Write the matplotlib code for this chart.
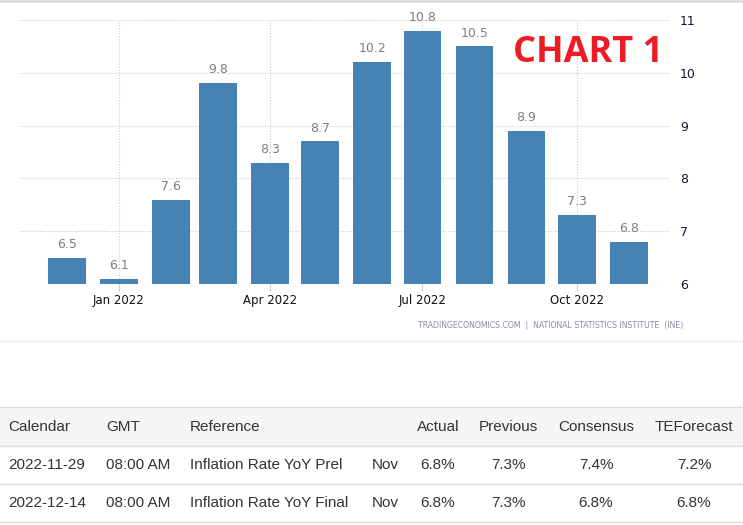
import matplotlib
matplotlib.use("Agg")
import numpy as np
import matplotlib.pyplot as plt
import matplotlib.dates as mdates
from datetime import date, timedelta

# monthly CPI YoY (%)
months = [date(2021, 12, 1), date(2022, 1, 1), date(2022, 2, 1), date(2022, 3, 1),
          date(2022, 4, 1), date(2022, 5, 1), date(2022, 6, 1), date(2022, 7, 1),
          date(2022, 8, 1), date(2022, 9, 1), date(2022, 10, 1), date(2022, 11, 1)]
values = [6.5, 6.1, 7.6, 9.8, 8.3, 8.7, 10.2, 10.8, 10.5, 8.9, 7.3, 6.8]
tick_dates = [date(2022, 1, 1), date(2022, 4, 1), date(2022, 7, 1), date(2022, 10, 1)]
yticks = [6, 7, 8, 9, 10, 11]

# calendar table
headers = ["Calendar", "GMT", "Reference", "", "Actual", "Previous", "Consensus", "TEForecast"]
rows = [
    ["2022-11-29", "08:00 AM", "Inflation Rate YoY Prel", "Nov", "6.8%", "7.3%", "7.4%", "7.2%"],
    ["2022-12-14", "08:00 AM", "Inflation Rate YoY Final", "Nov", "6.8%", "7.3%", "6.8%", "6.8%"],
]

W, H = 743, 525
fig = plt.figure(figsize=(W / 100, H / 100), dpi=100)

def fx(px):
    return px / W

def fy(py):
    return 1 - py / H

ax = fig.add_axes([fx(20), fy(284), fx(669 - 20), (284 - 20) / H])
bar_color = "#4682b4"
x = mdates.date2num(months)
ax.bar(x, values, width=22.5, color=bar_color, zorder=3)
for xi, v in zip(x, values):
    ax.text(xi, v + 0.13, "%.1f" % v, ha="center", va="bottom", fontsize=9,
            color="#7f7f7f", zorder=4)

ax.set_ylim(6, 11)
ax.set_xlim(mdates.date2num(date(2021, 11, 3)), mdates.date2num(date(2022, 11, 25)))
ax.set_yticks(yticks)
ax.yaxis.tick_right()
ax.tick_params(axis="y", length=0, labelsize=9, labelcolor="#141433", pad=8)
ax.set_xticks(mdates.date2num(tick_dates))
ax.set_xticklabels([d.strftime("%b %Y") for d in tick_dates])
ax.tick_params(axis="x", length=5, width=0.8, color="#cccccc", labelsize=8.5,
               labelcolor="#111111", pad=2)
ax.grid(True, color="#cccccc", linestyle=(0, (1, 1.5)), linewidth=0.8, zorder=0)
for s in ax.spines.values():
    s.set_visible(False)

fig.text(fx(588), fy(53), "CHART 1", color="#ed1c24", fontsize=26, fontweight="bold",
         family="Open Sans", ha="center", va="center")
fig.text(fx(683), fy(325), "TRADINGECONOMICS.COM  |  NATIONAL STATISTICS INSTITUTE  (INE)",
         color="#8a8aa0", fontsize=5.6, ha="right", va="center")

# separators
fig.add_artist(plt.Line2D([0, 1], [fy(1), fy(1)], color="#dddddd", lw=2))
fig.add_artist(plt.Line2D([0, 1], [fy(341), fy(341)], color="#eeeeee", lw=1))

# table
fig.add_artist(plt.Rectangle((0, fy(446)), 1, (446 - 407) / H, color="#f5f5f5", lw=0))
for yl in [407, 446, 484, 522]:
    fig.add_artist(plt.Line2D([0, 1], [fy(yl), fy(yl)], color="#dddddd", lw=1))

col_x = [8, 106, 190, 372, 438, 508, 596, 694]
col_ha = ["left", "left", "left", "left", "center", "center", "center", "center"]
row_y = [427, 465, 503]
tfont = dict(family="Liberation Sans", fontsize=11, color="#333333", va="center")
for j, h in enumerate(headers):
    fig.text(fx(col_x[j]), fy(row_y[0]), h, ha=col_ha[j], **tfont)
for i, r in enumerate(rows):
    for j, c in enumerate(r):
        fig.text(fx(col_x[j]), fy(row_y[i + 1]), c, ha=col_ha[j], **tfont)

fig.savefig("out.png", dpi=100)
